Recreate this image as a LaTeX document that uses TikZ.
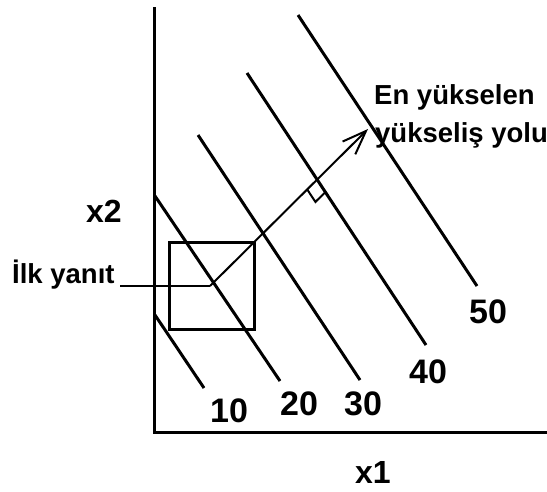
\documentclass[tikz,border=0pt]{standalone}
\usepackage{fontspec}
\setmainfont{Liberation Sans}
\usetikzlibrary{arrows.meta,calc,intersections}
\begin{document}
\begin{tikzpicture}[x=1pt,y=-1pt,
  thick line/.style={line width=3pt},
  thin line/.style={line width=2pt},
  lbl/.style={anchor=base west,inner sep=0pt,font=\bfseries\fontsize{27.5}{27.5}\selectfont},
  num/.style={anchor=base west,inner sep=0pt,font=\bfseries\fontsize{34}{34}\selectfont},
  axl/.style={anchor=base west,inner sep=0pt,font=\bfseries\fontsize{32}{32}\selectfont}]
\useasboundingbox (0,0) rectangle (547,491);
% axes
\coordinate (ytop) at (154,7);
\coordinate (org) at (154,432);
\coordinate (xend) at (547,432);
\draw[thick line] (ytop) -- (org) -- (xend);
% contour lines
\coordinate (c10a) at (155,315); \coordinate (c10b) at (204,388);
\coordinate (c20a) at (155,196); \coordinate (c20b) at (280,381);
\coordinate (c30a) at (198,135); \coordinate (c30b) at (360,380);
\coordinate (c40a) at (247,73);  \coordinate (c40b) at (426,345);
\coordinate (c50a) at (298,15);  \coordinate (c50b) at (477,286);
\draw[thick line] (c10a) -- (c10b);
\draw[thick line] (c20a) -- (c20b);
\draw[thick line] (c30a) -- (c30b);
\draw[thick line,name path=l40] (c40a) -- (c40b);
\draw[thick line] (c50a) -- (c50b);
% box
\coordinate (bx1) at (169,242); \coordinate (bx2) at (254,329);
\draw[thick line] (bx1) rectangle (bx2);
% path
\coordinate (start) at (120,286);
\coordinate (pivot) at (210,286);
\coordinate (tip) at (368,129);
\draw[thin line] (start) -- (pivot);
\draw[thin line,name path=arr,-{Straight Barb[length=24pt,width=18pt]}] (pivot) -- (tip);
% right angle mark
\path[name intersections={of=arr and l40,by=I}];
\coordinate (ra) at ($(I)!14pt!(pivot)$);
\coordinate (rb) at ($(I)!15pt!(c40b)$);
\draw[thin line] (ra) -- ($(ra)+(rb)-(I)$) -- (rb);
% labels
\node[lbl] (t1) at (374,104) {En yükselen};
\node[lbl] (t2) at (375,142) {yükseliş yolu};
\node[lbl] (ilk) at (12,283) {İlk yanıt};
\node[axl] (x2) at (86,222) {x2};
\node[axl] (x1) at (355,483) {x1};
\node[num] (n10) at (210,422) {10};
\node[num] (n20) at (280,415) {20};
\node[num] (n30) at (344,415) {30};
\node[num] (n40) at (409,383) {40};
\node[num] (n50) at (469,323) {50};
\end{tikzpicture}
\end{document}
